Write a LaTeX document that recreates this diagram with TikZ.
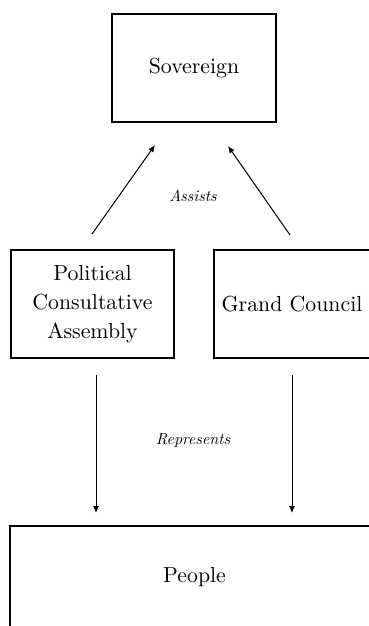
\documentclass[tikz,border=0pt]{standalone}
\usepackage{fontspec}
\setmainfont{lmroman10-regular.otf}[ItalicFont=lmroman10-italic.otf]
\usetikzlibrary{arrows.meta}
\begin{document}
\begin{tikzpicture}[x=1pt,y=1pt,
  box/.style={draw=black,line width=1.5pt,inner sep=0pt,align=center,
    font=\fontsize{21.8}{29}\selectfont},
  lbl/.style={inner sep=0pt,font=\fontsize{16}{19}\selectfont\itshape},
  arr/.style={line width=1pt,-{Latex[length=7pt,width=6pt]}}]
\useasboundingbox (0,0) rectangle (369,-626);
\clip (0,0) rectangle (369,-626);
\node[box,minimum width=164,minimum height=108] (sov) at (194,-68) {Sovereign};
\node[box,minimum width=163,minimum height=108] (pca) at (92.5,-304) {Political\\Consultative\\Assembly};
\node[box,minimum width=156,minimum height=108] (gc) at (292,-304) {Grand Council};
\node[box,minimum width=369,minimum height=102] (ppl) at (194.5,-577) {People};
\coordinate (a1s) at (92,-234);
\coordinate (a1e) at (155,-145);
\coordinate (a2s) at (290,-235);
\coordinate (a2e) at (228,-146);
\coordinate (d1s) at (96,-375);
\coordinate (d1e) at (96,-513);
\coordinate (d2s) at (292,-375);
\coordinate (d2e) at (292,-513);
\draw[arr] (a1s) -- (a1e);
\draw[arr] (a2s) -- (a2e);
\draw[arr] (d1s) -- (d1e);
\draw[arr] (d2s) -- (d2e);
\node[lbl] (assists) at (193,-196) {Assists};
\node[lbl] (repr) at (193,-441) {Represents};
\end{tikzpicture}
\end{document}
